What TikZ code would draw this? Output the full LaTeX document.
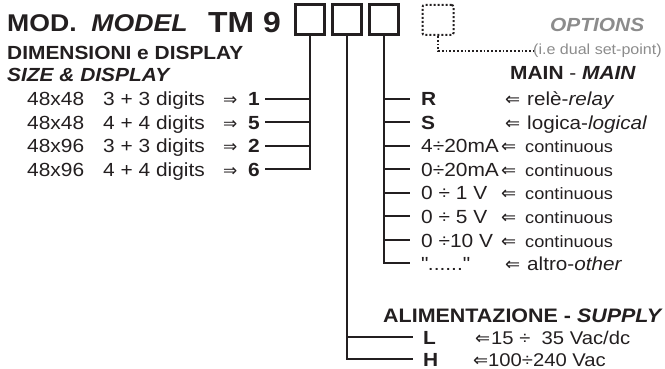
\documentclass[tikz,border=0pt]{standalone}
\usepackage{fontspec}
\setmainfont{Liberation Sans}[FakeStretch=1.1]
\newfontfamily\arr{DejaVu Sans}
\definecolor{ink}{RGB}{35,31,32}
\definecolor{optgray}{RGB}{140,140,140}
\newcommand{\fs}[1]{\fontsize{#1}{#1}\selectfont}
\newcommand{\la}[1]{\makebox[#1][l]{\arr\fs{18}⇐}}
\begin{document}
\begin{tikzpicture}[x=1pt,y=-1pt,
  txt/.style={inner sep=0pt, anchor=base west, text=ink, font=\fs{19}},
  desc/.style={inner sep=0pt, anchor=base west, text=ink, font=\fs{16.5}},
  codebox/.style={draw=ink, line width=2.3pt, minimum width=29pt, minimum height=30pt, inner sep=0pt},
  optbox/.style={draw=ink, line width=2pt, dotted, rounded corners=2pt, minimum width=31pt, minimum height=30pt, inner sep=0pt},
  wire/.style={draw=ink, line width=2.2pt},
  dotwire/.style={draw=ink, line width=1.8pt, dotted}]
\useasboundingbox (0,0) rectangle (665,369);

% title
\node[txt, font=\fs{24.2}\bfseries] (mod) at (7,32) {MOD.\ \ \textit{MODEL}};
\node[txt, font=\fs{29}\bfseries] (tm) at (208,33) {TM 9};
\node[txt, font=\fs{19}\bfseries] (dim) at (7,60) {DIMENSIONI e DISPLAY};
\node[txt, font=\fs{19}\bfseries\itshape] (size) at (7,82) {SIZE \& DISPLAY};

% code boxes
\node[codebox] (b1) at (310,19.5) {};
\node[codebox] (b2) at (347,19.5) {};
\node[codebox] (b3) at (384,19.5) {};
\node[optbox] (b4) at (438,20) {};

% options
\node[txt, text=optgray, font=\fs{19}\bfseries\itshape] (opt) at (550,32) {OPTIONS};
\node[txt, text=optgray, font=\fs{14.6}] (dual) at (533,55) {(i.e dual set-point)};
\draw[dotwire] (b4.south) |- (dual.west);

% size & display rows
\foreach \nn/\ss/\dd/\kk/\yy in {1/48x48/3 + 3/1/99, 2/48x48/4 + 4/5/122, 3/48x96/3 + 3/2/146, 4/48x96/4 + 4/6/169}{
  \node[txt] (sz\nn) at (27,\yy+7) {\ss};
  \node[txt] (dg\nn) at (103,\yy+7) {\dd{} digits};
  \node[txt, font=\arr\fs{17}] (ar\nn) at (223,\yy+7) {⇒};
  \node[txt, font=\fs{19}\bfseries] (cd\nn) at (248,\yy+7) {\kk};
  \coordinate (t\nn) at (265,\yy);
}
\foreach \nn in {1,2,3,4}{ \draw[wire] (b1.south) |- (t\nn); }

% main output
\node[txt, font=\fs{19}\bfseries] (mainh) at (510,80) {MAIN \textmd{-} \textit{MAIN}};
\node[txt, font=\fs{19}\bfseries] (m1) at (421,106) {R};
\node[txt, font=\fs{19}\bfseries] (m2) at (421,129) {S};
\node[txt] (m3) at (421,153) {4÷20mA};
\node[txt] (m4) at (421,176) {0÷20mA};
\node[txt] (m5) at (421,200) {0 ÷ 1 V};
\node[txt] (m6) at (421,223) {0 ÷ 5 V};
\node[txt] (m7) at (421,247) {0 ÷10 V};
\node[txt] (m8) at (421,270) {\textquotedbl......\textquotedbl};
\coordinate (u1) at (410,99);
\coordinate (u2) at (410,122);
\coordinate (u3) at (410,146);
\coordinate (u4) at (410,169);
\coordinate (u5) at (410,193);
\coordinate (u6) at (410,216);
\coordinate (u7) at (410,240);
\coordinate (u8) at (410,263);
\node[desc, font=\fs{18.8}] (d1) at (505,106) {\la{22pt}relè-\textit{relay}};
\node[desc, font=\fs{18.8}] (d2) at (505,129) {\la{22pt}logica-\textit{logical}};
\node[desc] (d3) at (501,153) {\la{24pt}continuous};
\node[desc] (d4) at (501,176) {\la{24pt}continuous};
\node[desc] (d5) at (501,200) {\la{24pt}continuous};
\node[desc] (d6) at (501,223) {\la{24pt}continuous};
\node[desc] (d7) at (501,247) {\la{24pt}continuous};
\node[desc, font=\fs{18.8}] (d8) at (505,270) {\la{22pt}altro-\textit{other}};
\foreach \nn in {1,2,3,4,5,6,7,8}{ \draw[wire] (b3.south) |- (u\nn); }

% supply
\node[txt, font=\fs{19.5}\bfseries] (sup) at (383,322) {ALIMENTAZIONE - \textit{SUPPLY}};
\node[txt, font=\fs{19}\bfseries] (sl) at (423,344) {L};
\node[txt, font=\fs{19}\bfseries] (sh) at (423,366) {H};
\node[txt, font=\fs{18.4}] (vl) at (475,344) {\la{16pt}15 ÷\ \ 35 Vac/dc};
\node[txt, font=\fs{18.4}] (vh) at (473,366) {\la{15pt}100÷240 Vac};
\coordinate (w1) at (413,337);
\coordinate (w2) at (413,359);
\draw[wire] (b2.south) |- (w1);
\draw[wire] (b2.south) |- (w2);
\end{tikzpicture}
\end{document}
